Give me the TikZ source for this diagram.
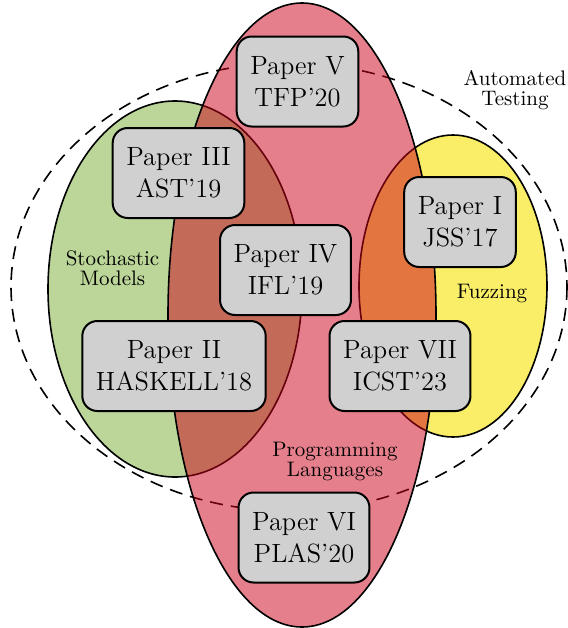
\documentclass[tikz,border=0pt]{standalone}
\usetikzlibrary{shapes.geometric}
\definecolor{smgreen}{RGB}{187,214,152}
\definecolor{fzyellow}{RGB}{250,237,104}
\definecolor{plred}{RGB}{206,0,26}
\definecolor{boxgray}{RGB}{208,208,208}
\begin{document}
\begin{tikzpicture}[x=0.5pt,y=-0.5pt,
  paper/.style={draw=black, line width=1pt, fill=boxgray, rounded corners=7.5pt,
    align=center, inner xsep=6.8pt, inner ysep=0pt, minimum height=45pt,
    font=\fontsize{13.2}{16}\selectfont},
  setlabel/.style={align=center, inner sep=0pt, font=\fontsize{10.5}{10}\selectfont},
  setline/.style={line width=0.8pt, draw=black}]
\useasboundingbox (0,0) rectangle (568,628);
% sets
\path[setline, fill=smgreen] (175,289) ellipse [x radius=127, y radius=188];
\path[setline, fill=fzyellow] (453,286) ellipse [x radius=94, y radius=151];
\path[setline, dash pattern=on 6.5pt off 4pt] (289,287) ellipse [x radius=278, y radius=224];
\path[setline, fill=plred, fill opacity=0.5] (302,315) ellipse [x radius=134, y radius=312];
% set labels
\node[setlabel] (lat) at (515,90) {Automated\\Testing};
\node[setlabel] (lsm) at (112.5,268) {Stochastic\\Models};
\node[setlabel] (lpl) at (335,461) {Programming\\Languages};
\node[setlabel] (lfz) at (492,294) {Fuzzing};
% papers
\node[paper] (p5) at (297.5,81.5) {Paper V\\TFP’20};
\node[paper] (p3) at (178.5,173) {Paper III\\AST’19};
\node[paper] (p4) at (285.5,270) {Paper IV\\IFL’19};
\node[paper] (p1) at (460,222) {Paper I\\JSS’17};
\node[paper] (p2) at (174,366) {Paper II\\HASKELL’18};
\node[paper] (p7) at (400,366) {Paper VII\\ICST’23};
\node[paper] (p6) at (304,537.5) {Paper VI\\PLAS’20};
\end{tikzpicture}
\end{document}
